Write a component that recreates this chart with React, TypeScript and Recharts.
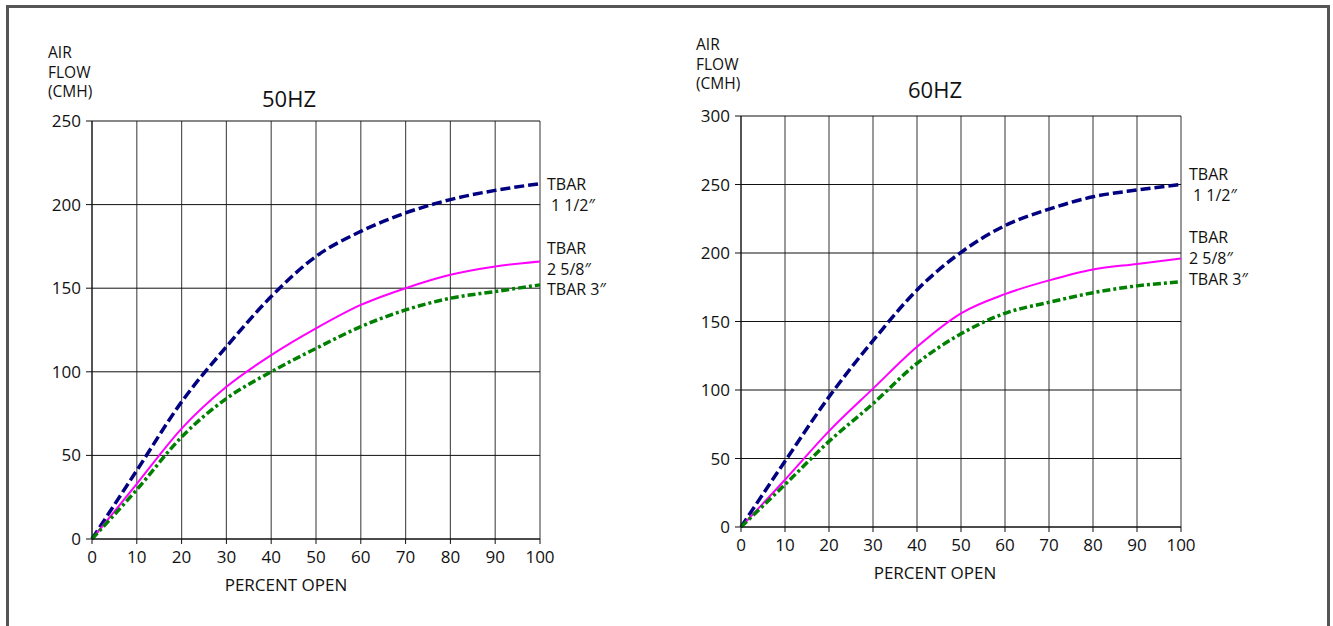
import React from 'react';
import { LineChart, Line, XAxis, YAxis, CartesianGrid } from 'recharts';

// percent open (x) and air flow in CMH (y)
const percentOpen = [0, 10, 20, 30, 40, 50, 60, 70, 80, 90, 100];

const hz50Tbar112 = [0, 41, 82, 115, 145, 169, 184, 195, 203, 208.5, 212.5];
const hz50Tbar258 = [0, 33, 66, 91, 110, 126, 140, 150, 158, 163, 166];
const hz50Tbar3 = [0, 29.5, 61, 84, 100, 114, 127, 137, 144, 148, 152];

const hz60Tbar112 = [0, 48, 95, 136, 173, 200.5, 220, 232, 241, 246, 250];
const hz60Tbar258 = [0, 34.5, 70, 101, 131.5, 156, 170, 180, 188, 192, 196];
const hz60Tbar3 = [0, 31, 62.5, 90, 119.5, 141, 156, 164, 171, 176, 179];

const xTicks = [0, 10, 20, 30, 40, 50, 60, 70, 80, 90, 100];
const yTicks50 = [0, 50, 100, 150, 200, 250];
const yTicks60 = [0, 50, 100, 150, 200, 250, 300];

const tbar112Label = ['TBAR', ' 1 1/2″'];
const tbar258Label = ['TBAR', '2 5/8″'];
const tbar3Label = ['TBAR 3″'];

const FONT = '"Open Sans", sans-serif';

const toRows = (a: number[], b: number[], c: number[]) =>
  percentOpen.map((p, i) => ({ p, a: a[i], b: b[i], c: c[i] }));

// draws the series name next to the last point of the line
const endLabel = (lines: string[], dys: number[], dx: number) => (props: any) => {
  const { x, y, index } = props;
  if (index !== percentOpen.length - 1) return null;
  return (
    <text x={x + dx} y={y} fontFamily={FONT} fontSize={16} fill="#111" dominantBaseline="central">
      {lines.map((t, i) => (
        <tspan key={i} x={x + dx + (t.startsWith(' ') ? 4 : 0)} y={y + dys[i]}>
          {t.trim()}
        </tspan>
      ))}
    </text>
  );
};

interface FlowChartProps {
  rows: { p: number; a: number; b: number; c: number }[];
  yMax: number;
  yTicks: number[];
  width: number;
  margin: { top: number; right: number; bottom: number; left: number };
  labelDx: number;
  dys: number[][];
}

function FlowChart({ rows, yMax, yTicks, width, margin, labelDx, dys }: FlowChartProps) {
  const tick = { fontFamily: FONT, fontSize: 17, fill: '#111' };
  return (
    <LineChart width={width} height={626} data={rows} margin={margin}>
      <CartesianGrid horizontal={false} stroke="#555" strokeWidth={1.2} />
      <CartesianGrid vertical={false} stroke="#111" strokeWidth={1} />
      <XAxis
        dataKey="p"
        type="number"
        domain={[0, 100]}
        ticks={xTicks}
        height={40}
        tickSize={5}
        tickMargin={7}
        tick={tick}
        stroke="#111"
        interval={0}
      />
      <YAxis
        type="number"
        domain={[0, yMax]}
        ticks={yTicks}
        width={50}
        tickSize={6}
        tickMargin={5}
        tick={tick}
        stroke="#111"
        interval={0}
      />
      <Line
        type="monotone"
        dataKey="a"
        stroke="#000080"
        strokeWidth={3.5}
        strokeDasharray="10 4"
        dot={false}
        isAnimationActive={false}
        label={endLabel(tbar112Label, dys[0], labelDx)}
      />
      <Line
        type="monotone"
        dataKey="b"
        stroke="#ff00ff"
        strokeWidth={2}
        dot={false}
        isAnimationActive={false}
        label={endLabel(tbar258Label, dys[1], labelDx)}
      />
      <Line
        type="monotone"
        dataKey="c"
        stroke="#008000"
        strokeWidth={3.5}
        strokeDasharray="8 3 3 3"
        dot={false}
        isAnimationActive={false}
        label={endLabel(tbar3Label, dys[2], labelDx)}
      />
    </LineChart>
  );
}

const textStyle: React.CSSProperties = {
  position: 'absolute',
  fontFamily: FONT,
  color: '#111',
  whiteSpace: 'nowrap',
};

export default function App() {
  return (
    <div style={{ position: 'absolute', left: 0, top: 0, width: 1333, height: 626, background: '#fff', overflow: 'hidden' }}>
      <div
        style={{
          position: 'absolute',
          left: 6,
          top: 5,
          width: 1318,
          height: 640,
          border: '3px solid #555',
          borderBottom: 'none',
        }}
      />

      <div style={{ position: 'absolute', left: 0, top: 0 }}>
        <FlowChart
          rows={toRows(hz50Tbar112, hz50Tbar258, hz50Tbar3)}
          yMax={250}
          yTicks={yTicks50}
          width={640}
          margin={{ top: 121, right: 100, bottom: 47, left: 42 }}
          labelDx={7}
          dys={[[0, 21], [-13, 8], [4]]}
        />
      </div>
      <div style={{ position: 'absolute', left: 640, top: 0 }}>
        <FlowChart
          rows={toRows(hz60Tbar112, hz60Tbar258, hz60Tbar3)}
          yMax={300}
          yTicks={yTicks60}
          width={693}
          margin={{ top: 116, right: 152, bottom: 59, left: 51 }}
          labelDx={8}
          dys={[[-11, 10], [-21, 0], [-3]]}
        />
      </div>

      <div style={{ ...textStyle, left: 48, top: 43, fontSize: 15.5, lineHeight: '19.5px' }}>
        AIR<br />FLOW<br />(CMH)
      </div>
      <div style={{ ...textStyle, left: 262, top: 83, fontSize: 22 }}>50HZ</div>
      <div style={{ ...textStyle, left: 0, width: 572, textAlign: 'center', top: 573, fontSize: 17 }}>PERCENT OPEN</div>

      <div style={{ ...textStyle, left: 696, top: 35, fontSize: 15.5, lineHeight: '19.5px' }}>
        AIR<br />FLOW<br />(CMH)
      </div>
      <div style={{ ...textStyle, left: 908, top: 74, fontSize: 22 }}>60HZ</div>
      <div style={{ ...textStyle, left: 640, width: 590, textAlign: 'center', top: 561, fontSize: 17 }}>PERCENT OPEN</div>
    </div>
  );
}
